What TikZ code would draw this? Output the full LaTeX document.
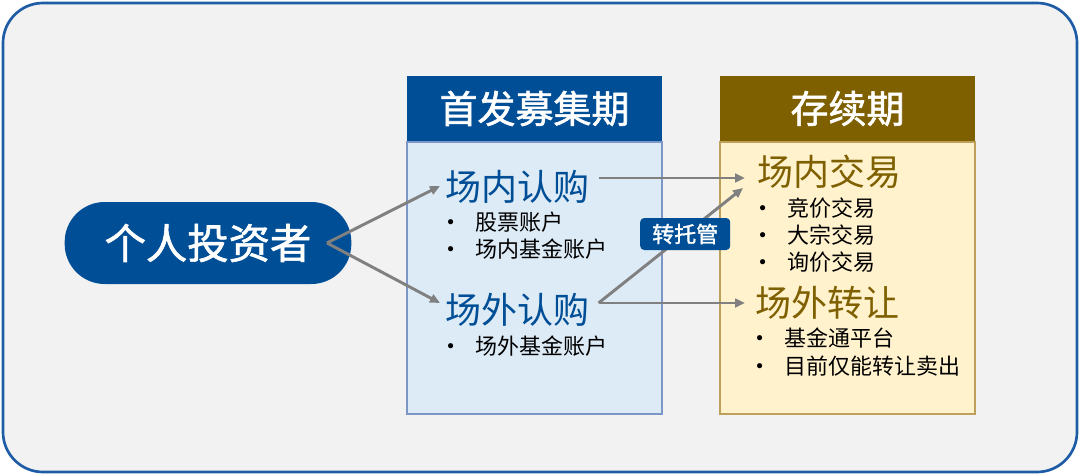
\documentclass[tikz,border=0pt]{standalone}
\usepackage{fontspec}
\setmainfont{Noto Sans CJK SC}
\newfontfamily\heavy{Noto Sans CJK SC}[FakeBold=1.5]
\usetikzlibrary{positioning, arrows.meta}
\definecolor{navy}{RGB}{0,78,150}
\definecolor{framecol}{RGB}{30,92,166}
\definecolor{paper}{RGB}{242,242,242}
\definecolor{skyfill}{RGB}{221,235,247}
\definecolor{skyline}{RGB}{125,150,200}
\definecolor{olive}{RGB}{127,96,0}
\definecolor{creamfill}{RGB}{255,242,204}
\definecolor{creamline}{RGB}{190,160,90}
\definecolor{arrowgray}{RGB}{128,128,128}
\tikzset{
flow/.style={-{Triangle[length=7.5pt,width=6.5pt]}, line width=2.2pt, draw=arrowgray},
pill/.style={rounded corners=30pt, fill=navy, text=white, minimum width=215pt, minimum height=61.5pt, font=\heavy\fontsize{31}{33}\selectfont},
colhead/.style={minimum width=191.25pt, minimum height=48.75pt, inner sep=0pt, text=white, font=\heavy\fontsize{28.5}{30}\selectfont},
colbody/.style={minimum width=191.25pt, minimum height=204pt, line width=1pt},
stage/.style={anchor=west, inner sep=0pt, font=\fontsize{27}{29}\selectfont},
item/.style={anchor=west, inner sep=0pt, font=\fontsize{16.5}{18}\selectfont},
tag/.style={fill=navy, text=white, rounded corners=3pt, minimum width=67.5pt, minimum height=24pt, inner sep=0pt, font=\heavy\fontsize{16.5}{18}\selectfont},
}
\newcommand{\itm}[1]{\makebox[21pt][l]{\raisebox{3.8pt}{\fontsize{10}{10}\selectfont$\bullet$}}#1}

\begin{document}
\begin{tikzpicture}[x=0.75pt,y=-0.75pt]
\useasboundingbox (0,0) rectangle (1080,475);
\draw[framecol, fill=paper, line width=2pt, rounded corners=30pt] (3,3) rectangle (1077,472);

% investor
\node[pill] (investor) at (208,243) {个人投资者};
\coordinate (fork) at (327,243);

% columns
\node[colhead, fill=navy] (raise) at (534.5,108.5) {首发募集期};
\node[colbody, below=0pt of raise, fill=skyfill, draw=skyline] (raisebody) {};
\node[colhead, fill=olive] (hold) at (847.5,108.5) {存续期};
\node[colbody, below=0pt of hold, fill=creamfill, draw=creamline] (holdbody) {};

% subscription
\node[stage, text=navy] (onbuy) at (445,187) {场内认购};
\node[item] (onbuya) at (447,222) {\itm{股票账户}};
\node[item] (onbuyb) at (447,249) {\itm{场内基金账户}};
\node[stage, text=navy] (offbuy) at (445,310) {场外认购};
\node[item] (offbuya) at (447,346) {\itm{场外基金账户}};

% duration
\node[stage, text=olive] (ontrade) at (757,172) {场内交易};
\node[item] (ontradea) at (759,208) {\itm{竞价交易}};
\node[item] (ontradeb) at (759,235) {\itm{大宗交易}};
\node[item] (ontradec) at (759,262) {\itm{询价交易}};
\node[stage, text=olive] (offsell) at (755,303) {场外转让};
\node[item] (offsella) at (756,338) {\itm{基金通平台}};
\node[item] (offsellb) at (756,366) {\itm{目前仅能转让卖出}};

\draw[flow] (fork) -- ([xshift=-3.75pt,yshift=0.75pt]onbuy.west);
\draw[flow] (fork) -- ([xshift=-3.75pt,yshift=5.25pt]offbuy.west);
\draw[flow] ([xshift=6.75pt,yshift=6.75pt]onbuy.east) -- ([xshift=-9pt,yshift=-4.5pt]ontrade.west);
\draw[flow] ([xshift=6.75pt,yshift=5.25pt]offbuy.east) -- ([xshift=-7.5pt]offsell.west);
\draw[flow] ([xshift=6.75pt,yshift=5.25pt]offbuy.east) -- ([xshift=-10.5pt,yshift=-12pt]ontrade.west)
  node[tag, pos=0.6] (move) {转托管};
\end{tikzpicture}
\end{document}
